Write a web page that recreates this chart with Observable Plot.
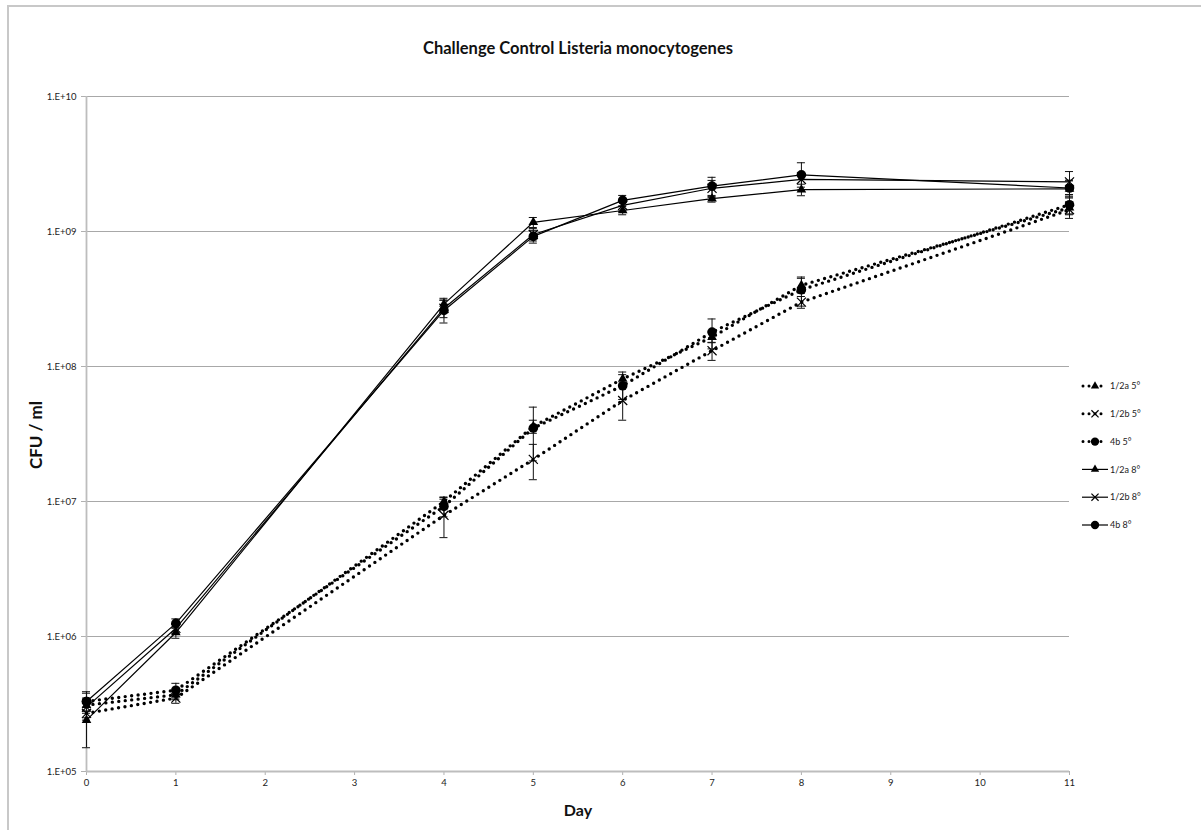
<!DOCTYPE html>
<html>
<head>
<meta charset="utf-8">
<script src="https://cdn.jsdelivr.net/npm/d3@7"></script>
<script src="https://cdn.jsdelivr.net/npm/@observablehq/plot@0.6"></script>
<style>
  html, body { margin: 0; padding: 0; background: #fff; }
  #wrap { position: relative; width: 1201px; height: 830px; overflow: hidden; font-family: Lato, "Liberation Sans", sans-serif; }
  #frame { position: absolute; left: 7px; top: 5px; width: 1300px; height: 900px; border-left: 2px solid #c8c8c8; border-top: 2px solid #c8c8c8; }
  #title { position: absolute; left: 0; width: 1156px; top: 38px; text-align: center; font-weight: bold; font-size: 16.5px; color: #111; }
  #ylab { position: absolute; left: 35px; top: 435px; transform: translate(-50%, -50%) rotate(-90deg); font-weight: bold; font-size: 17px; white-space: nowrap; color: #111; }
  #xlab { position: absolute; left: 0; width: 1156px; top: 800px; text-align: center; font-weight: bold; font-size: 16px; color: #111; }
  #chart { position: absolute; left: 0; top: 0; }
  #legend { position: absolute; left: 1080px; top: 375px; }
</style>
</head>
<body>
<div id="wrap">
  <div id="frame"></div>
  <div id="chart"></div>
  <div id="title">Challenge Control Listeria monocytogenes</div>
  <div id="ylab">CFU / ml</div>
  <div id="xlab">Day</div>
  <div id="legend"></div>
</div>
<script>
// ---- data ----
const days = [0, 1, 4, 5, 6, 7, 8, 11];
const seriesNames = ["1/2a 5°", "1/2b 5°", "4b 5°", "1/2a 8°", "1/2b 8°", "4b 8°"];
const seriesTemp = ["5", "5", "5", "8", "8", "8"];
const seriesSymbol = ["triangle", "times", "circle", "triangle", "times", "circle"];

const a5 = [3.1e5, 3.7e5, 1.0e7, 3.6e7, 8.1e7, 1.65e8, 4.0e8, 1.5e9];
const b5 = [2.7e5, 3.5e5, 7.9e6, 2.05e7, 5.6e7, 1.31e8, 3.0e8, 1.45e9];
const c5 = [3.3e5, 4.0e5, 9.2e6, 3.5e7, 7.2e7, 1.8e8, 3.7e8, 1.58e9];
const a8 = [2.4e5, 1.07e6, 2.9e8, 1.17e9, 1.43e9, 1.75e9, 2.04e9, 2.07e9];
const b8 = [3.0e5, 1.15e6, 2.7e8, 9.5e8, 1.56e9, 2.09e9, 2.43e9, 2.33e9];
const c8 = [3.3e5, 1.25e6, 2.6e8, 9.2e8, 1.7e9, 2.17e9, 2.63e9, 2.1e9];

const a5err = [0.3e5, 0.3e5, 0.8e6, 0.4e7, 1.0e7, 0.15e8, 0.5e8, 0.15e9];
const b5err = [0.3e5, 0.3e5, 2.5e6, 0.6e7, 1.6e7, 0.2e8, 0.3e8, 0.2e9];
const c5err = [0.6e5, 0.5e5, 1.5e6, 1.5e7, 1.5e7, 0.45e8, 0.9e8, 0.25e9];
const a8err = [0.9e5, 0.1e6, 0.3e8, 0.1e9, 0.1e9, 0.1e9, 0.2e9, 0.3e9];
const b8err = [0.5e5, 0.1e6, 0.4e8, 0.1e9, 0.15e9, 0.3e9, 0.3e9, 0.45e9];
const c8err = [0.5e5, 0.1e6, 0.5e8, 0.1e9, 0.15e9, 0.35e9, 0.6e9, 0.3e9];

const yTicks = [1e5, 1e6, 1e7, 1e8, 1e9, 1e10];
const yTickLabels = ["1.E+05", "1.E+06", "1.E+07", "1.E+08", "1.E+09", "1.E+10"];
const xTicks = [0, 1, 2, 3, 4, 5, 6, 7, 8, 9, 10, 11];

// ---- build table ----
const allValues = [a5, b5, c5, a8, b8, c8];
const allErrs = [a5err, b5err, c5err, a8err, b8err, c8err];
const rows = [];
seriesNames.forEach((s, i) => {
  days.forEach((d, j) => {
    rows.push({series: s, temp: seriesTemp[i], symbol: seriesSymbol[i], day: d, value: allValues[i][j], err: allErrs[i][j]});
  });
});
const rows5 = rows.filter(r => r.temp === "5");
const rows8 = rows.filter(r => r.temp === "8");
const capW = 0.045;

const chart = Plot.plot({
  width: 1201,
  height: 830,
  marginLeft: 86,
  marginRight: 132,
  marginTop: 96,
  marginBottom: 59,
  style: {fontFamily: "Lato, 'Liberation Sans', sans-serif", background: "transparent"},
  x: {domain: [0, 11]},
  y: {type: "log", domain: [1e5, 1e10]},
  marks: [
    Plot.ruleY(yTicks.slice(1), {stroke: "#a8a8a8", strokeWidth: 1.2}),
    Plot.axisY({ticks: yTicks, tickFormat: (d) => yTickLabels[yTicks.indexOf(d)], tickSize: 5, tickPadding: 5, fontSize: 9.5, stroke: "#b0b0b0", fill: "#222", label: null}),
    Plot.axisX({ticks: xTicks, tickFormat: (d) => String(d), tickSize: 4, tickPadding: 4, fontSize: 9.5, stroke: "#b0b0b0", fill: "#222", label: null}),
    Plot.ruleX([0], {stroke: "#bdbdbd", strokeWidth: 1.8}),
    Plot.ruleY([1e5], {stroke: "#bdbdbd", strokeWidth: 1.8}),
    // error bars
    Plot.ruleX(rows, {x: "day", y1: d => d.value - d.err, y2: d => d.value + d.err, stroke: "#111", strokeWidth: 1}),
    Plot.ruleY(rows, {y: d => d.value + d.err, x1: d => d.day - capW, x2: d => d.day + capW, stroke: "#111", strokeWidth: 1}),
    Plot.ruleY(rows, {y: d => d.value - d.err, x1: d => d.day - capW, x2: d => d.day + capW, stroke: "#111", strokeWidth: 1}),
    // lines
    Plot.line(rows5, {x: "day", y: "value", z: "series", stroke: "#000", strokeWidth: 3.4, strokeDasharray: "0 6.5", strokeLinecap: "round"}),
    Plot.line(rows8, {x: "day", y: "value", z: "series", stroke: "#000", strokeWidth: 1.2}),
    // markers
    Plot.dot(rows.filter(r => r.symbol === "triangle"), {x: "day", y: "value", symbol: "triangle2", r: 4.6, fill: "#000", stroke: "none"}),
    Plot.dot(rows.filter(r => r.symbol === "circle"), {x: "day", y: "value", symbol: "circle", r: 4.8, fill: "#000", stroke: "none"}),
    Plot.dot(rows.filter(r => r.symbol === "times"), {x: "day", y: "value", symbol: "times", r: 4.2, fill: "none", stroke: "#000", strokeWidth: 1.2})
  ]
});
document.getElementById("chart").appendChild(chart);

// ---- legend ----
const leg = d3.select("#legend").append("svg").attr("width", 100).attr("height", 170)
  .style("font-family", "Lato, 'Liberation Sans', sans-serif");
seriesNames.forEach((s, i) => {
  const y = 11 + i * 27.8;
  const g = leg.append("g").attr("transform", `translate(0,${y})`);
  if (seriesTemp[i] === "5") {
    g.append("line").attr("x1", 3).attr("x2", 27).attr("y1", 0).attr("y2", 0)
      .attr("stroke", "#000").attr("stroke-width", 3).attr("stroke-dasharray", "0 6").attr("stroke-linecap", "round");
  } else {
    g.append("line").attr("x1", 2).attr("x2", 28).attr("y1", 0).attr("y2", 0)
      .attr("stroke", "#000").attr("stroke-width", 1.2);
  }
  const sym = seriesSymbol[i] === "triangle" ? d3.symbolTriangle2 : seriesSymbol[i] === "circle" ? d3.symbolCircle : d3.symbolTimes;
  const size = seriesSymbol[i] === "circle" ? 55 : seriesSymbol[i] === "triangle" ? 50 : 35;
  const p = g.append("path").attr("transform", "translate(15,0)").attr("d", d3.symbol(sym, size)());
  if (seriesSymbol[i] === "times") p.attr("fill", "none").attr("stroke", "#000").attr("stroke-width", 1.2);
  else p.attr("fill", "#000");
  g.append("text").attr("x", 30).attr("y", 0).attr("dy", "0.35em").attr("font-size", 9).attr("fill", "#222").text(s);
});
</script>
</body>
</html>
